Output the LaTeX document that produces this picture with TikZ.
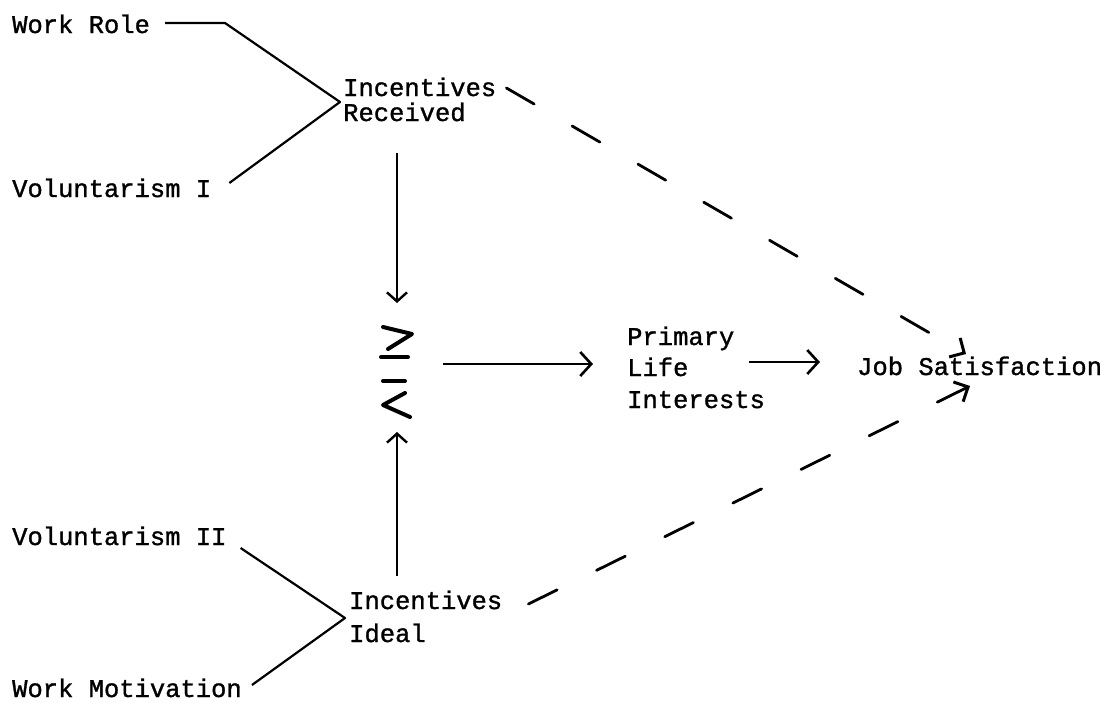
\documentclass[tikz,border=0pt]{standalone}
\usepackage{fontspec}
\newfontfamily\tw{Liberation Mono}[FakeBold=1.2,AutoFakeBold=1.2]
\usetikzlibrary{arrows.meta}
\begin{document}
\begin{tikzpicture}[x=1pt,y=-1pt,
  lbl/.style={font=\tw\bfseries\fontsize{25.5}{30}\selectfont, inner sep=0pt, anchor=base west},
  conn/.style={line width=2.2pt, line join=round},
  arr/.style={line width=2.2pt, -{Straight Barb[length=9pt,width=20pt,line width=2.4pt]}},
  harr/.style={line width=2.2pt, -{Straight Barb[length=11pt,width=24pt,line width=2.6pt]}},
  dsh/.style={line width=2.8pt, dash pattern=on 32pt off 44pt, line cap=round,
     -{Straight Barb[length=11pt,width=22pt,line width=3pt]}},
  sym/.style={line width=4pt, line cap=round, line join=round}]
\useasboundingbox (0,0) rectangle (1106,702);
\fill[white] (0,0) rectangle (1106,702);

% labels
\node[lbl] (wr)  at (12,33)  {Work Role};
\node[lbl] (v1)  at (12,197) {Voluntarism I};
\node[lbl] (ir1) at (343,96) {Incentives};
\node[lbl] (ir2) at (343,121) {Received};
\node[lbl] (p1)  at (627,345) {Primary};
\node[lbl] (p2)  at (627,376) {Life};
\node[lbl] (p3)  at (627,408) {Interests};
\node[lbl] (js)  at (857,375) {Job Satisfaction};
\node[lbl] (v2)  at (12,545) {Voluntarism II};
\node[lbl] (ii1) at (349,609) {Incentives};
\node[lbl] (ii2) at (349,642) {Ideal};
\node[lbl] (wm)  at (12,697) {Work Motivation};

% comparison symbol (>= over <=)
\draw[sym] (383,327) -- (412,334) -- (388,349);
\draw[sym] (381,357) -- (408,357);
\draw[sym] (383,381) -- (405,381);
\draw[sym] (405,393) -- (383,405) -- (410,417);

% top fork
\coordinate (tv) at (340,102);
\coordinate (tk) at (225,23);
\draw[conn] ([xshift=15pt,yshift=10pt]wr.base east) -- (tk) -- (tv) -- ([xshift=18pt,yshift=14pt]v1.base east);
% bottom fork
\coordinate (bv) at (345,618);
\draw[conn] ([xshift=14pt,yshift=-3pt]v2.base east) -- (bv) -- ([xshift=10pt,yshift=12pt]wm.base east);

% vertical arrows
\coordinate (dtip) at (397,303);
\coordinate (utip) at (397,432);
\draw[arr] ([xshift=54pt,yshift=-32pt]ir2.base west) -- (dtip);
\draw[arr] ([xshift=48pt,yshift=33pt]ii1.base west) -- (utip);

% horizontal arrows
\coordinate (htail) at (443,364);
\draw[harr] (htail) -- ([xshift=-34pt,yshift=12pt]p2.base west);
\draw[harr] ([xshift=60pt,yshift=14pt]p2.base east) -- ([xshift=-37pt,yshift=13pt]js.base west);

% dashed arrows
\draw[dsh] ([xshift=10pt,yshift=8pt]ir1.base east) -- ([xshift=109pt,yshift=21pt]js.base west);
\draw[dsh] ([xshift=26pt,yshift=5pt]ii1.base east) -- ([xshift=113pt,yshift=-11pt]js.base west);
\end{tikzpicture}
\end{document}
